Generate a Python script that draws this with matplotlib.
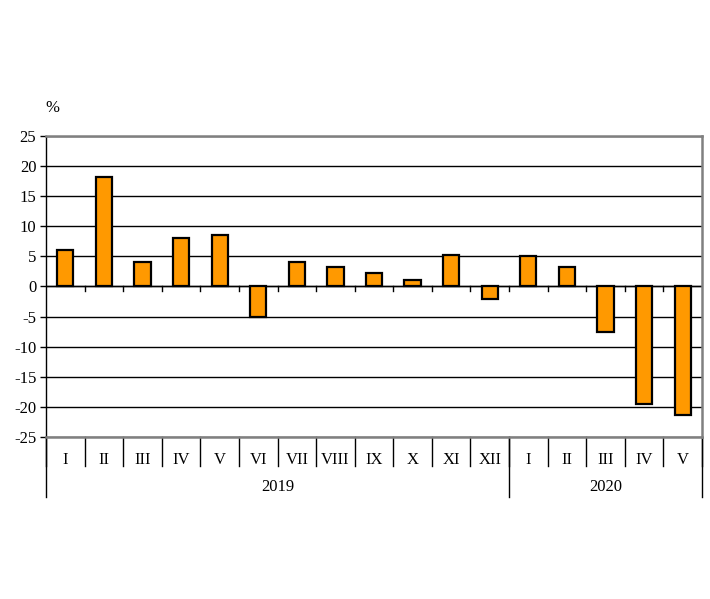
import matplotlib.pyplot as plt
from matplotlib.transforms import blended_transform_factory

plt.rcParams["font.family"] = ["Liberation Serif", "DejaVu Serif"]
plt.rcParams["axes.unicode_minus"] = False

months = ["I", "II", "III", "IV", "V", "VI", "VII", "VIII", "IX", "X", "XI", "XII",
          "I", "II", "III", "IV", "V"]
values = [6.1, 18.2, 4.0, 8.0, 8.5, -5.0, 4.1, 3.3, 2.3, 1.0, 5.3, -2.0,
          5.1, 3.2, -7.6, -19.6, -21.4]
years = ["2019", "2020"]
year_counts = [12, 5]
yticks = list(range(-25, 30, 5))

fig = plt.figure(figsize=(7.1, 5.99), dpi=100)
ax = fig.add_axes([0.0648, 0.2705, 0.9239, 0.5025])

x = list(range(len(values)))
ax.bar(x, values, width=0.42, color="#FF9900", edgecolor="black", linewidth=1.6, zorder=3)

ax.set_xlim(-0.5, len(values) - 0.5)
ax.set_ylim(-25, 25)
ax.set_yticks(yticks)
ax.tick_params(axis="y", direction="out", length=4, width=1, labelsize=12, pad=3)
ax.yaxis.grid(True, color="black", linewidth=1)
ax.set_axisbelow(True)

ax.set_xticks(x, months)
ax.tick_params(axis="x", length=0, labelsize=12, pad=11)

for s in ["top", "right", "bottom"]:
    ax.spines[s].set_color("#808080")
    ax.spines[s].set_linewidth(1.8)
ax.spines["left"].set_color("black")
ax.spines["left"].set_linewidth(1)

# zero line and small ticks below it
ax.axhline(0, color="black", linewidth=1, zorder=2)
for b in range(1, len(values)):
    ax.plot([b - 0.5, b - 0.5], [0, -0.7], color="black", linewidth=1, zorder=2)

trans = blended_transform_factory(ax.transData, ax.transAxes)
for b in range(len(values) + 1):
    ax.plot([b - 0.5, b - 0.5], [0, -0.096], color="black", linewidth=1,
            transform=trans, clip_on=False)

start = 0
bounds = [0]
for name, n in zip(years, year_counts):
    ax.text(start + (n - 1) / 2, -0.166, name, transform=trans, ha="center", va="center",
            fontsize=12)
    start += n
    bounds.append(start)
for b in bounds:
    ax.plot([b - 0.5, b - 0.5], [0, -0.2], color="black", linewidth=1,
            transform=trans, clip_on=False)

fig.text(52 / 710, 1 - 108 / 599, "%", ha="center", va="center", fontsize=12)

fig.savefig("out.png", dpi=100)
